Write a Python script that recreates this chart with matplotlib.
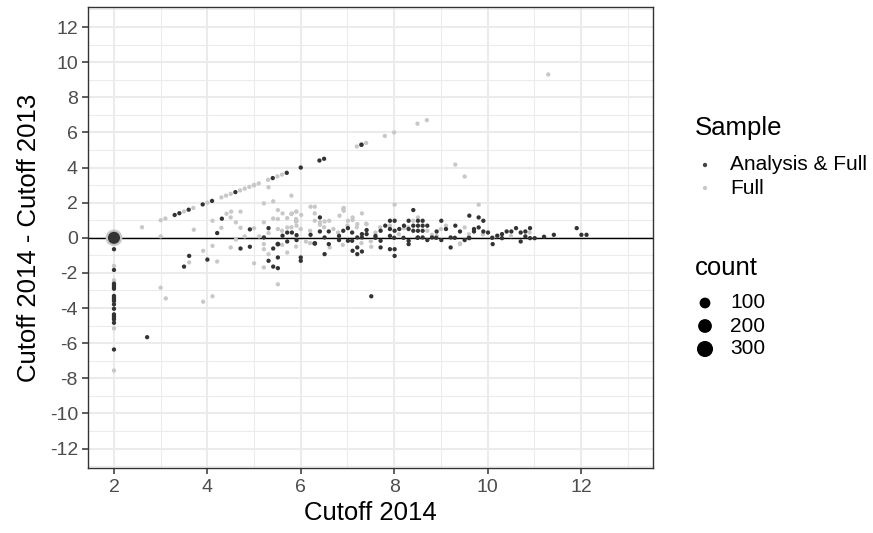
import matplotlib
matplotlib.use("Agg")
import matplotlib.pyplot as plt
import numpy as np

# Sample "Analysis & Full" (dark points)
an_x = [2.0,
        2.0, 2.0, 2.0, 2.0, 2.0, 2.0, 2.0, 2.0, 2.0, 2.0, 2.0, 2.0, 2.0, 2.0, 2.0, 2.0, 2.0, 2.0,
        2.71,
        3.3, 3.4, 3.6, 3.9, 4.1, 4.6, 5.4, 5.7, 6.0, 6.4, 6.5, 7.3,
        4.31, 4.21, 4.91, 3.61, 3.5, 4.0, 4.71, 4.91,
        5.21, 5.31, 5.31, 5.41, 5.51, 5.51, 5.51, 5.41,
        5.61, 5.71, 5.81, 5.91, 5.71, 5.91, 6.0, 6.0, 6.41, 6.41, 6.6, 6.21, 6.3, 6.51, 6.6, 6.51,
        6.82, 6.82, 6.91, 7.01, 7.01, 7.1, 7.1, 7.21, 7.31, 7.31, 7.41, 7.41,
        7.11, 7.21, 7.21, 7.31, 7.51,
        7.6, 7.71, 7.71, 7.71, 7.81, 7.91, 7.91, 7.91, 8.01, 8.01, 8.01, 8.01, 7.91, 8.11, 8.21,
        8.31, 8.31, 8.31, 8.31, 8.41, 8.41, 8.41, 8.51, 8.51, 8.51, 8.51, 8.61, 8.61, 8.61, 8.61,
        8.71, 8.71, 8.81, 8.91, 9.01, 9.01, 9.11, 9.21, 9.21, 9.31, 9.41, 9.51, 9.61, 9.61, 9.71,
        9.71, 9.81, 9.81, 9.91, 9.91, 10.01, 10.11, 10.21, 10.31, 10.31, 10.41,
        10.51, 10.61, 10.71, 10.71, 10.81, 10.81, 10.91, 10.91, 11.01, 11.21, 11.42, 11.91, 12.01, 12.12,
        7.6, 8.0, 8.2, 8.5, 8.9, 9.3, 9.6, 10.1]
an_y = [0.0,
        -0.65, -1.83, -2.61, -2.7, -2.8, -2.9, -3.31, -3.41, -3.5, -3.6, -3.79, -4.04, -4.36, -4.46, -4.55, -4.65, -4.84, -6.36,
        -5.66,
        1.3, 1.4, 1.6, 1.9, 2.1, 2.6, 3.4, 3.7, 4.0, 4.4, 4.5, 5.3,
        1.09, 0.27, 0.48, -1.03, -1.64, -1.24, -0.61, -0.51,
        0.02, 0.55, -1.31, -1.64, -1.73, -1.12, -0.36, -0.61,
        0.12, 0.3, 0.3, 0.15, -0.21, -0.13, -1.12, -1.31, 1.16, 0.36, 0.36, 0.17, -0.32, 0.02, -0.36, -0.93,
        0.11, -0.13, 0.4, 0.55, -0.17, 0.3, -0.17, 0.02, 0.21, 0.02, 0.44, 0.21,
        -0.74, -0.93, -0.55, -0.78, -3.33,
        0.11, 0.4, -0.17, -0.55, 0.69, 0.97, 0.5, 0.11, 0.97, 0.4, -0.65, -1.03, -0.65, 0.5, 0.69,
        0.97, 0.5, -0.17, -0.36, 1.58, 0.69, 0.4, 0.97, 0.69, 0.4, 0.02, 0.97, 0.69, 0.4, 0.02,
        0.69, -0.13, 0.02, 0.36, 0.97, -0.13, 0.5, 0.02, -0.55, 0.69, 0.36, -0.13, 1.26, -0.02, 0.5,
        0.36, 1.16, 0.59, 0.97, 0.36, 0.3, -0.36, 0.12, 0.21, -0.02, 0.36,
        0.36, 0.55, 0.3, -0.21, 0.36, 0.08, 0.55, -0.02, -0.02, 0.06, 0.17, 0.55, 0.17, 0.17,
        0.0, 0.0, 0.0, 0.0, 0.0, 0.0, 0.0, 0.0]
an_n = [140] + [1] * (len(an_x) - 1)
an_n[31] = 2   # (7.3, 5.3)
an_n[46] = 3   # (5.51, -0.36)
an_n[60] = 3   # (6.3, -0.32)

# Sample "Full" (light points)
fu_x = [2.0, 2.0, 2.0, 2.0, 2.0,
        2.6, 3.0, 3.1, 3.5, 3.7, 4.0, 4.3, 4.4, 4.5, 4.7, 4.8, 4.9, 5.0, 5.1, 5.3, 5.5, 5.6,
        7.2, 7.4, 7.8, 8.0, 8.5, 8.7, 11.3,
        3.0, 3.11, 3.0, 3.71, 3.91, 3.61, 4.21, 4.11, 3.91, 4.11, 4.11, 4.41, 4.51, 4.71, 4.3,
        4.61, 4.5, 5.21, 5.21, 4.5, 4.61, 5.0, 5.21, 5.21, 5.0, 5.21, 4.8, 5.11, 4.71, 5.31,
        5.41, 5.51, 5.51, 5.41, 5.31, 5.51, 5.31, 5.51, 5.8, 5.8, 5.9, 5.9, 5.9, 6.01, 6.21,
        6.3, 6.3, 6.41, 6.51, 6.61, 5.71, 6.11, 6.62, 6.83, 6.92, 6.92, 7.11, 7.11, 7.31, 7.51,
        8.01, 9.31, 9.51, 9.81, 9.41,
        6.91, 7.01, 7.21, 7.41, 6.3, 6.41, 5.61, 5.71, 5.71, 5.81, 5.91, 5.91, 5.91,
        7.91, 8.21, 8.41, 8.51, 8.71, 8.81, 8.91, 9.11, 9.41, 9.51, 10.11,
        5.6, 5.8, 6.0, 6.2, 6.5, 6.7, 6.8, 7.0, 7.2, 7.4, 7.6, 7.7, 8.1, 8.3, 9.0, 9.6, 9.9,
        10.2, 10.5, 10.9, 5.6, 5.9, 6.2, 6.9, 7.3, 7.5]
fu_y = [0.0, -1.6, -2.42, -5.16, -7.56,
        0.6, 1.0, 1.1, 1.5, 1.7, 2.0, 2.3, 2.4, 2.5, 2.7, 2.8, 2.9, 3.0, 3.1, 3.3, 3.5, 3.6,
        5.2, 5.4, 5.8, 6.0, 6.5, 6.7, 9.3,
        -2.84, -3.45, 0.08, 0.46, -0.74, -1.4, -1.35, -0.46, -3.64, -3.33, 0.97, 1.37, 1.49, 1.49, 0.57,
        0.88, 1.16, 1.96, 0.88, -0.55, -0.1, 0.55, -0.36, -0.65, -1.45, -1.69, 0.08, 0.08, 0.57, 2.88,
        2.08, 1.58, 1.07, 1.1, 0.27, 0.5, -0.93, -2.65, 2.4, 1.35, 1.49, 1.07, 0.92, 1.3, 1.77,
        1.77, 0.97, 0.74, 0.93, 0.97, -0.84, -0.21, -0.55, 1.26, 1.7, 1.54, 1.16, 1.01, 1.39, -0.51,
        1.89, 4.17, 3.49, 1.89, -0.32,
        1.64, 0.97, 0.78, 0.78, 1.39, 0.88, 1.39, 1.12, 0.59, 1.39, 1.49, 0.97, 0.69,
        0.69, 0.55, 0.97, 1.16, 0.4, 0.17, 0.11, 0.69, -0.36, 0.59, 0.02,
        0.4, 0.6, 0.5, 0.4, 0.6, 0.5, 0.3, 0.7, 0.6, 0.8, 0.3, 0.6, 0.2, 0.6, 0.5, 0.2, 0.2,
        0.1, 0.1, 0.3, -0.4, -0.5, -0.3, -0.4, -0.3, -0.2]
fu_n = [330] + [1] * (len(fu_x) - 1)
fu_n[17] = 3  # bigger light point near (5, 3)

count_breaks = [100, 200, 300]
sample_labels = ["Analysis & Full", "Full"]
x_ticks = [2, 4, 6, 8, 10, 12]
y_ticks = [-12, -10, -8, -6, -4, -2, 0, 2, 4, 6, 8, 10, 12]

DARK = "#333333"
LIGHT = "#c8c8c8"


def size_of(n):
    """Point area (pt^2) from count, sqrt-scaled like ggplot's scale_size."""
    d_px = 3.6 + 0.72 * np.sqrt(np.asarray(n, dtype=float))
    return (d_px * 0.72) ** 2


plt.rcParams['font.family'] = ['Liberation Sans', 'DejaVu Sans']

fig = plt.figure(figsize=(8.73, 5.33), dpi=100)
W, H = 873, 533
left, right, top, bottom = 88.3, 653.3, 7.3, 468.3
ax = fig.add_axes([left / W, 1 - bottom / H, (right - left) / W, (bottom - top) / H])

ax.set_xlim(1.45, 13.55)
ax.set_ylim(-13.125, 13.125)
ax.set_xticks(x_ticks)
ax.set_yticks(y_ticks)
ax.set_xticks(np.arange(3, 14, 2), minor=True)
ax.set_yticks(np.arange(-13, 14, 2), minor=True)
ax.grid(True, which='major', color='#ebebeb', linewidth=1.5, zorder=0)
ax.grid(True, which='minor', color='#ebebeb', linewidth=0.75, zorder=0)
ax.set_axisbelow(True)
for sp in ax.spines.values():
    sp.set_color('#333333')
    sp.set_linewidth(1.0)
ax.tick_params(which='major', length=4.5, width=1.1, color='#333333',
               labelsize=14, labelcolor='#4d4d4d', pad=3)
ax.tick_params(which='minor', length=0)
ax.set_xticklabels([str(t) for t in x_ticks])
ax.set_yticklabels([str(t) for t in y_ticks])

ax.axhline(0, color='black', linewidth=1.0, zorder=1)
ax.scatter(fu_x, fu_y, s=size_of(fu_n), color=LIGHT, edgecolors='none', zorder=2)
ax.scatter(an_x, an_y, s=size_of(an_n), color=DARK, edgecolors='none', zorder=3)

ax.set_xlabel("Cutoff 2014", fontsize=18.5, labelpad=4)
ax.set_ylabel("Cutoff 2014 - Cutoff 2013", fontsize=18.5, labelpad=6)

# legends, placed in pixel coordinates
lg = fig.add_axes([0, 0, 1, 1])
lg.set_xlim(0, W)
lg.set_ylim(H, 0)
lg.axis('off')
lg.text(695, 128, "Sample", fontsize=18.5, va='center', ha='left')
for i, (lab, col) in enumerate(zip(sample_labels, ["#444444", LIGHT])):
    yy = 165 + i * 23
    lg.scatter([705], [yy], s=size_of(1), color=col, edgecolors='none')
    lg.text(730, yy, lab, fontsize=15, va='center', ha='left')
lg.text(695, 268, "count", fontsize=18.5, va='center', ha='left')
for i, c in enumerate(count_breaks):
    yy = 303 + i * 23
    lg.scatter([705], [yy], s=size_of(c), color='black', edgecolors='none')
    lg.text(730, yy, str(c), fontsize=15, va='center', ha='left')

fig.savefig("out.png", dpi=100)
